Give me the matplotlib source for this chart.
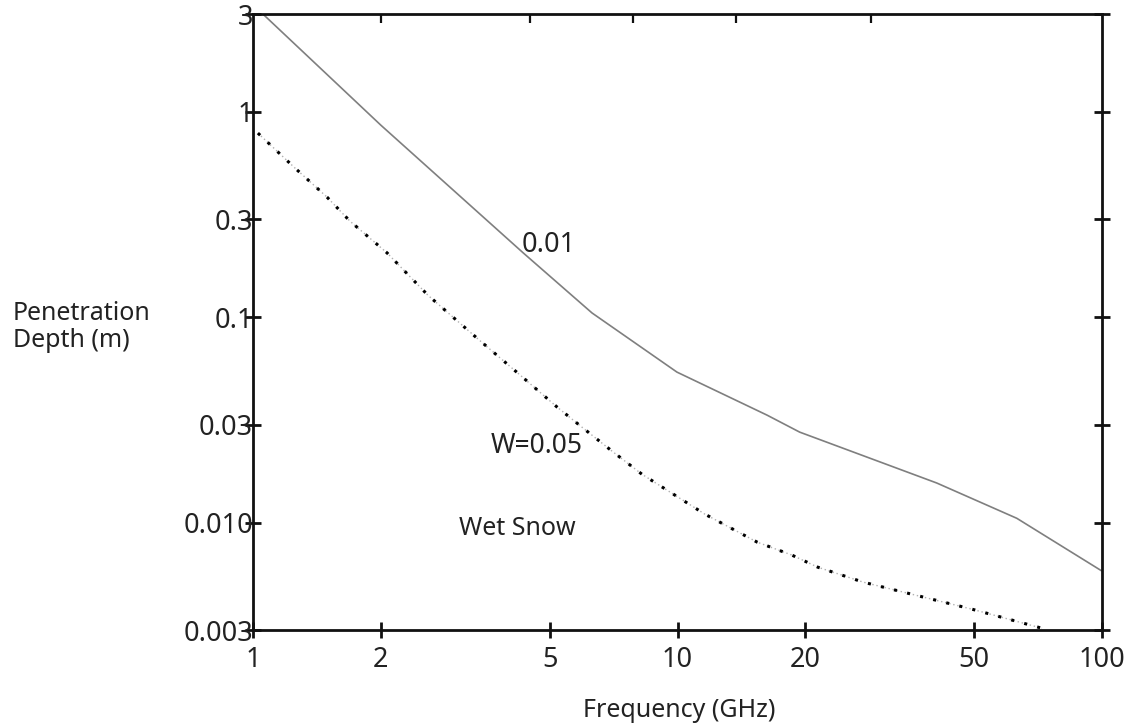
import matplotlib
matplotlib.use("Agg")
import matplotlib.pyplot as plt
from matplotlib.ticker import FixedLocator, FixedFormatter, NullLocator, NullFormatter

# -- data ------------------------------------------------------------------
freq_dry = [1.055, 2.0, 4.33, 6.29, 9.97, 16.25, 19.4, 40.8, 63.0, 100.0]
depth_dry = [3.0, 0.863, 0.206, 0.105, 0.0541, 0.0334, 0.0276, 0.0156, 0.0105, 0.00581]

freq_wet = [1.027, 1.256, 1.494, 1.692, 2.069, 2.584, 3.37, 4.26, 5.20, 5.99,
            7.05, 8.25, 9.60, 11.6, 15.4, 18.6, 21.4, 27.4, 49.4, 72.2]
depth_wet = [0.789, 0.533, 0.385, 0.294, 0.206, 0.128, 0.0792, 0.0523, 0.0366, 0.0289,
             0.0221, 0.0172, 0.0141, 0.0110, 0.00804, 0.00695, 0.00607, 0.00513, 0.00379, 0.00306]

x_ticks = [1, 2, 5, 10, 20, 50, 100]
x_labels = ["1", "2", "5", "10", "20", "50", "100"]
y_ticks = [3, 1, 0.3, 0.1, 0.03, 0.01, 0.003]
y_labels = ["3", "1", "0.3", "0.1", "0.03", "0.010", "0.003"]
top_ticks = [2.0, 4.49, 7.86, 13.7, 28.6]   # unlabelled ticks along the top edge

INK = "#111111"
TXT = "#222222"
GREY = "#7f7f7f"
FS = 18
FS_NUM = 19.5

plt.rcParams["font.family"] = ["Noto Sans", "DejaVu Sans"]

fig = plt.figure(figsize=(11.32, 7.26), dpi=100)
fig.patch.set_facecolor("white")
ax = fig.add_axes([0.2235, 0.1322, 0.75, 0.8485])

ax.plot(freq_dry, depth_dry, color=GREY, lw=1.2, solid_capstyle="butt")
# dotted wet-snow curve: faint grey dots under heavier black dots
ax.plot(freq_wet, depth_wet, color="#b0b0b0", lw=1.0, ls=(0, (1, 2)))
ax.plot(freq_wet, depth_wet, color="black", lw=2.2, ls=(0, (1, 3.4)))

ax.set_xscale("log")
ax.set_yscale("log")
ax.set_xlim(1, 100)
ax.set_ylim(0.003, 3)

ax.xaxis.set_major_locator(FixedLocator(x_ticks))
ax.xaxis.set_major_formatter(FixedFormatter(x_labels))
ax.yaxis.set_major_locator(FixedLocator(y_ticks))
ax.yaxis.set_major_formatter(FixedFormatter(y_labels))
ax.xaxis.set_minor_locator(NullLocator())
ax.yaxis.set_minor_locator(NullLocator())

for s in ax.spines.values():
    s.set_linewidth(2.0)
    s.set_color(INK)

ax.tick_params(axis="both", which="major", direction="inout", length=11, width=2.0,
               color=INK, labelsize=FS_NUM, labelcolor=TXT)
ax.tick_params(axis="x", pad=6, top=False)
ax.tick_params(axis="y", pad=-5.5, right=True)

# top edge carries its own short inward ticks
top = ax.twiny()
top.set_xscale("log")
top.set_xlim(ax.get_xlim())
top.xaxis.set_major_locator(FixedLocator(top_ticks))
top.xaxis.set_major_formatter(NullFormatter())
top.xaxis.set_minor_locator(NullLocator())
top.tick_params(axis="x", direction="in", length=6.5, width=1.6, color=INK)
for s in top.spines.values():
    s.set_visible(False)

ax.text(4.98, 0.225, "0.01", fontsize=FS_NUM, ha="center", va="center", color=TXT)
ax.text(4.67, 0.0236, "W=0.05", fontsize=19, ha="center", va="center", color=TXT)
ax.text(4.19, 0.0094, "Wet Snow", fontsize=FS, ha="center", va="center", color=TXT)

fig.text(0.0115, 0.549, "Penetration\nDepth (m)", fontsize=FS, ha="left", va="center",
         color=TXT, linespacing=1.1)
fig.text(0.6, 0.021, "Frequency (GHz)", fontsize=FS, ha="center", va="center",
         color=TXT)

fig.savefig("out.png", dpi=100, facecolor="white")
